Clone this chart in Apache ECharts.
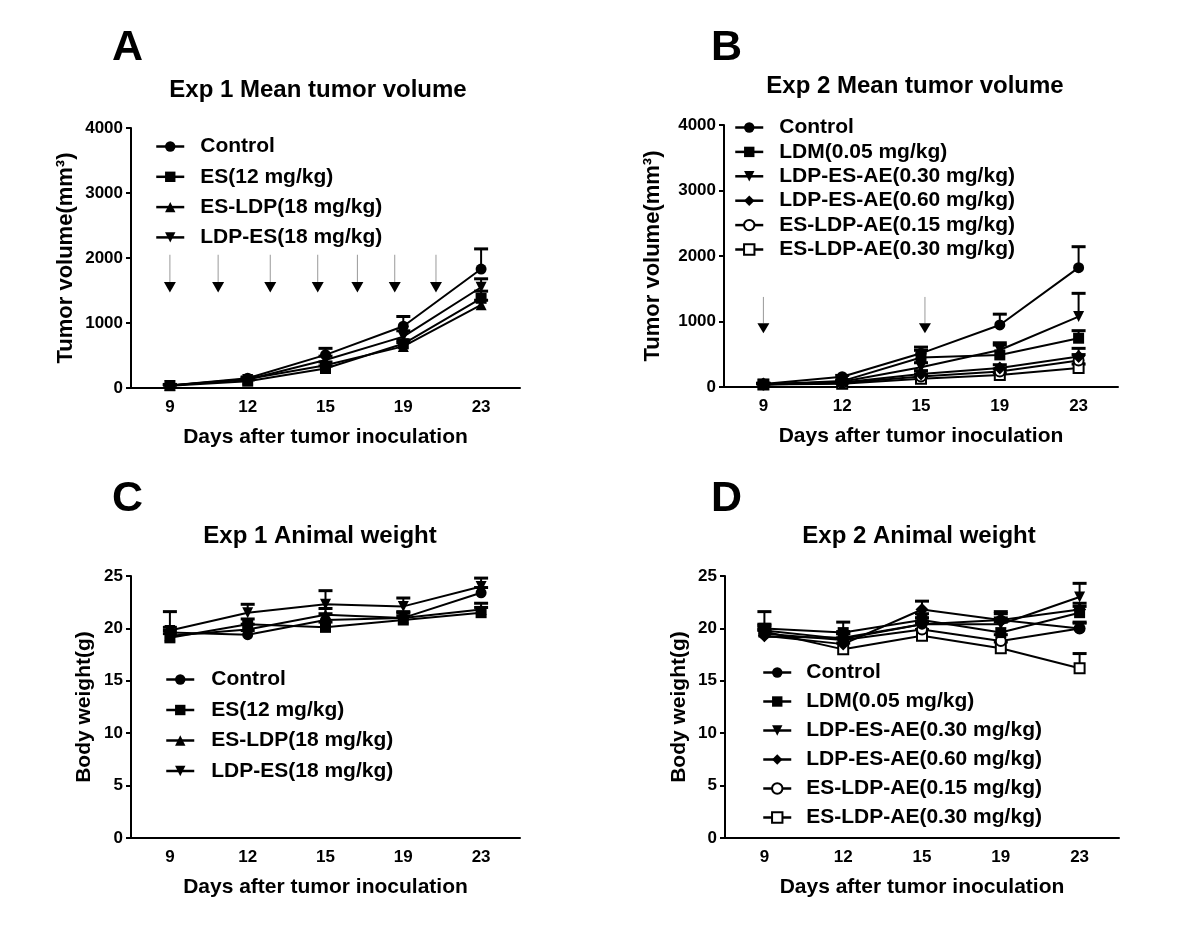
<!DOCTYPE html>
<html>
<head>
<meta charset="utf-8">
<script src="https://cdn.jsdelivr.net/npm/echarts@6/dist/echarts.min.js"></script>
<style>
html,body{margin:0;padding:0;background:#fff;}
#chart{width:1200px;height:942px;}
</style>
</head>
<body>
<div id="chart"></div>
<script>
// ---------- data ----------
const days = ['9', '12', '15', '19', '23'];

// Panel A: Exp 1 mean tumor volume (mm^3)
const A_control = [40, 150, 510, 950, 1830];
const A_control_sd = [15, 20, 100, 150, 310];
const A_es = [35, 105, 300, 680, 1380];
const A_es_sd = [10, 20, 40, 60, 110];
const A_esldp = [40, 140, 350, 640, 1280];
const A_esldp_sd = [10, 20, 50, 60, 70];
const A_ldpes = [40, 130, 430, 790, 1550];
const A_ldpes_sd = [10, 20, 60, 90, 130];
const A_doses = [0, 0.62, 1.29, 1.90, 2.41, 2.89, 3.42];
const A_arrowVals = [2050, 1630, 1470];

// Panel B: Exp 2 mean tumor volume (mm^3)
const B_control = [45, 157, 514, 947, 1822];
const B_control_sd = [15, 20, 95, 165, 320];
const B_ldm = [40, 90, 450, 490, 745];
const B_ldm_sd = [10, 20, 110, 150, 115];
const B_ldpes030 = [40, 80, 300, 565, 1075];
const B_ldpes030_sd = [10, 15, 70, 110, 355];
const B_ldpes060 = [45, 70, 200, 290, 465];
const B_ldpes060_sd = [10, 10, 50, 50, 125];
const B_esldp015 = [40, 60, 160, 235, 405];
const B_esldp015_sd = [10, 10, 40, 40, 90];
const B_esldp030 = [40, 50, 125, 185, 290];
const B_esldp030_sd = [10, 10, 30, 30, 60];
const B_doses = [0, 2.05];
const B_arrowVals = [1375, 975, 820];

// Panel C: Exp 1 body weight (g)
const C_control = [19.6, 19.4, 20.8, 21.0, 23.4];
const C_control_sd = [0.5, 0.4, 0.6, 0.5, 0.5];
const C_es = [19.1, 20.4, 20.1, 20.8, 21.5];
const C_es_sd = [0.4, 0.5, 0.5, 0.4, 0.5];
const C_esldp = [19.3, 19.9, 21.3, 21.0, 21.8];
const C_esldp_sd = [0.5, 0.5, 0.6, 0.6, 0.6];
const C_ldpes = [19.8, 21.5, 22.3, 22.1, 24.0];
const C_ldpes_sd = [1.8, 0.8, 1.3, 0.8, 0.8];

// Panel D: Exp 2 body weight (g)
const D_control = [19.8, 19.0, 20.4, 20.8, 20.0];
const D_control_sd = [0.6, 0.5, 0.6, 0.6, 0.5];
const D_ldm = [20.0, 19.6, 20.8, 19.6, 21.5];
const D_ldm_sd = [1.6, 1.0, 0.6, 1.0, 0.6];
const D_ldpes030 = [19.2, 19.1, 20.4, 20.4, 23.0];
const D_ldpes030_sd = [0.6, 0.6, 0.6, 0.6, 1.3];
const D_ldpes060 = [19.3, 18.5, 21.8, 20.8, 21.8];
const D_ldpes060_sd = [0.6, 0.6, 0.8, 0.8, 0.6];
const D_esldp015 = [19.5, 18.9, 19.9, 18.8, 20.0];
const D_esldp015_sd = [0.6, 0.6, 0.6, 0.6, 0.6];
const D_esldp030 = [19.7, 18.0, 19.3, 18.1, 16.2];
const D_esldp030_sd = [0.6, 0.6, 0.6, 0.6, 1.4];

// ---------- styling helpers ----------
const FONT = '"Liberation Sans", Arial, sans-serif';
const DOWN_TRI = 'path://M0,0 L10,0 L5,9 Z';
const SYM = {
  circle: 'circle', rect: 'rect', tri: 'triangle', down: DOWN_TRI,
  diamond: 'diamond', ocircle: 'emptyCircle', orect: 'emptyRect'
};

const panels = [
  { grid: {left: 131, top: 128, width: 389, height: 260}, yMax: 4000, yInt: 1000,
    yName: 'Tumor volume(mm³)', yGap: 54, yNameSize: 22,
    legend: {left: 155, top: 136, itemGap: 9.3, textPad: 11},
    arrows: {pos: A_doses, vals: A_arrowVals},
    series: [
      ['Control', 'circle', A_control, A_control_sd],
      ['ES(12 mg/kg)', 'rect', A_es, A_es_sd],
      ['ES-LDP(18 mg/kg)', 'tri', A_esldp, A_esldp_sd],
      ['LDP-ES(18 mg/kg)', 'down', A_ldpes, A_ldpes_sd]
    ]},
  { grid: {left: 724, top: 125, width: 394, height: 262}, yMax: 4000, yInt: 1000,
    yName: 'Tumor volume(mm³)', yGap: 60, yNameSize: 22,
    legend: {left: 734, top: 117, itemGap: 3.4, textPad: 11},
    arrows: {pos: B_doses, vals: B_arrowVals},
    series: [
      ['Control', 'circle', B_control, B_control_sd],
      ['LDM(0.05 mg/kg)', 'rect', B_ldm, B_ldm_sd],
      ['LDP-ES-AE(0.30 mg/kg)', 'down', B_ldpes030, B_ldpes030_sd],
      ['LDP-ES-AE(0.60 mg/kg)', 'diamond', B_ldpes060, B_ldpes060_sd],
      ['ES-LDP-AE(0.15 mg/kg)', 'ocircle', B_esldp015, B_esldp015_sd],
      ['ES-LDP-AE(0.30 mg/kg)', 'orect', B_esldp030, B_esldp030_sd]
    ]},
  { grid: {left: 131, top: 576, width: 389, height: 262}, yMax: 25, yInt: 5,
    yName: 'Body weight(g)', yGap: 36, yNameSize: 21,
    legend: {left: 165, top: 669, itemGap: 9.5, textPad: 12},
    series: [
      ['Control', 'circle', C_control, C_control_sd],
      ['ES(12 mg/kg)', 'rect', C_es, C_es_sd],
      ['ES-LDP(18 mg/kg)', 'tri', C_esldp, C_esldp_sd],
      ['LDP-ES(18 mg/kg)', 'down', C_ldpes, C_ldpes_sd]
    ]},
  { grid: {left: 725, top: 576, width: 394, height: 262}, yMax: 25, yInt: 5,
    yName: 'Body weight(g)', yGap: 35, yNameSize: 21,
    legend: {left: 762, top: 662, itemGap: 8, textPad: 10},
    series: [
      ['Control', 'circle', D_control, D_control_sd],
      ['LDM(0.05 mg/kg)', 'rect', D_ldm, D_ldm_sd],
      ['LDP-ES-AE(0.30 mg/kg)', 'down', D_ldpes030, D_ldpes030_sd],
      ['LDP-ES-AE(0.60 mg/kg)', 'diamond', D_ldpes060, D_ldpes060_sd],
      ['ES-LDP-AE(0.15 mg/kg)', 'ocircle', D_esldp015, D_esldp015_sd],
      ['ES-LDP-AE(0.30 mg/kg)', 'orect', D_esldp030, D_esldp030_sd]
    ]}
];

const grids = [], xAxes = [], yAxes = [], series = [], legends = [];

function errRender(params, api) {
  const x = api.value(0), m = api.value(1), s = api.value(2);
  const p0 = api.coord([x, m]);
  const p1 = api.coord([x, m + s]);
  return {
    type: 'group',
    children: [
      {type: 'line', shape: {x1: p0[0], y1: p0[1], x2: p1[0], y2: p1[1]}, style: {stroke: '#000', lineWidth: 2}},
      {type: 'line', shape: {x1: p1[0] - 7, y1: p1[1], x2: p1[0] + 7, y2: p1[1]}, style: {stroke: '#000', lineWidth: 3}}
    ]
  };
}

function arrowRender(params, api) {
  const x = api.value(0);
  const top = api.coord([x, api.value(1)]);
  const base = api.coord([x, api.value(2)]);
  const tip = api.coord([x, api.value(3)]);
  return {
    type: 'group',
    children: [
      {type: 'line', shape: {x1: top[0], y1: top[1], x2: base[0], y2: base[1]}, style: {stroke: '#999', lineWidth: 1}},
      {type: 'polygon', shape: {points: [[base[0] - 6, base[1]], [base[0] + 6, base[1]], [tip[0], tip[1]]]}, style: {fill: '#000'}}
    ]
  };
}

panels.forEach((p, gi) => {
  grids.push(p.grid);
  const catIdx = xAxes.length;
  xAxes.push({
    type: 'category', gridIndex: gi, data: days, boundaryGap: true,
    axisLine: {onZero: false, lineStyle: {color: '#000', width: 2}},
    axisTick: {alignWithLabel: true, length: 5, lineStyle: {color: '#000', width: 2}},
    axisLabel: {color: '#000', fontFamily: FONT, fontWeight: 'bold', fontSize: 17, margin: 11},
    name: 'Days after tumor inoculation', nameLocation: 'middle', nameGap: 39,
    nameTextStyle: {color: '#000', fontFamily: FONT, fontWeight: 'bold', fontSize: 21}
  });
  const valIdx = xAxes.length;
  xAxes.push({type: 'value', gridIndex: gi, min: -0.5, max: 4.5, show: false});
  yAxes.push({
    type: 'value', gridIndex: gi, min: 0, max: p.yMax, interval: p.yInt,
    splitLine: {show: false},
    axisLine: {show: true, onZero: false, lineStyle: {color: '#000', width: 2}},
    axisTick: {show: true, length: 5, lineStyle: {color: '#000', width: 2}},
    axisLabel: {color: '#000', fontFamily: FONT, fontWeight: 'bold', fontSize: 17, margin: 8,
      formatter: v => String(v)},
    name: p.yName, nameLocation: 'middle', nameGap: p.yGap,
    nameTextStyle: {color: '#000', fontFamily: FONT, fontWeight: 'bold', fontSize: p.yNameSize}
  });
  const names = [];
  p.series.forEach(([name, sym, mean, sd]) => {
    names.push(name);
    series.push({
      type: 'custom', xAxisIndex: catIdx, yAxisIndex: gi, renderItem: errRender,
      data: mean.map((v, i) => [i, v, sd[i]]), encode: {x: 0, y: 1}, z: 1, silent: true
    });
  });
  // draw later groups first so the first-listed groups sit on top
  p.series.slice().reverse().forEach(([name, sym, mean, sd]) => {
    const hollow = sym === 'ocircle' || sym === 'orect';
    series.push({
      type: 'line', name: name, xAxisIndex: catIdx, yAxisIndex: gi, data: mean,
      symbol: SYM[sym], symbolSize: sym === 'diamond' ? 13 : (hollow ? 10 : 11),
      showAllSymbol: true,
      lineStyle: {color: '#000', width: 2},
      itemStyle: {color: '#000', borderColor: '#000', borderWidth: hollow ? 2.5 : 0},
      z: 3, animation: false
    });
  });
  if (p.arrows) {
    series.push({
      type: 'custom', xAxisIndex: valIdx, yAxisIndex: gi, renderItem: arrowRender,
      data: p.arrows.pos.map(x => [x, p.arrows.vals[0], p.arrows.vals[1], p.arrows.vals[2]]),
      encode: {x: 0, y: 1}, silent: true, z: 2
    });
  }
  legends.push({
    data: names, orient: 'vertical', left: p.legend.left, top: p.legend.top,
    itemGap: p.legend.itemGap, itemWidth: 28, itemHeight: 13, selectedMode: false,
    padding: 0,
    lineStyle: {width: 2.5, color: '#000'},
    textStyle: {color: '#000', fontFamily: FONT, fontWeight: 'bold', fontSize: 21, padding: [0, 0, 0, p.legend.textPad]}
  });
});

const titleStyle = {color: '#000', fontFamily: FONT, fontWeight: 'bold', fontSize: 24};
const letterStyle = {color: '#000', fontFamily: FONT, fontWeight: 'bold', fontSize: 43};

const option = {
  backgroundColor: '#fff',
  animation: false,
  title: [
    {text: 'A', left: 112, top: 27, textStyle: letterStyle, padding: 0},
    {text: 'Exp 1 Mean tumor volume', left: 318, top: 78, textAlign: 'center', textStyle: titleStyle, padding: 0},
    {text: 'B', left: 711, top: 27, textStyle: letterStyle, padding: 0},
    {text: 'Exp 2 Mean tumor volume', left: 915, top: 74, textAlign: 'center', textStyle: titleStyle, padding: 0},
    {text: 'C', left: 112, top: 478, textStyle: letterStyle, padding: 0},
    {text: 'Exp 1 Animal weight', left: 320, top: 524, textAlign: 'center', textStyle: titleStyle, padding: 0},
    {text: 'D', left: 711, top: 478, textStyle: letterStyle, padding: 0},
    {text: 'Exp 2 Animal weight', left: 919, top: 524, textAlign: 'center', textStyle: titleStyle, padding: 0}
  ],
  legend: legends,
  grid: grids,
  xAxis: xAxes,
  yAxis: yAxes,
  series: series
};

const chart = echarts.init(document.getElementById('chart'), null, {renderer: 'canvas'});
chart.setOption(option);
</script>
</body>
</html>
